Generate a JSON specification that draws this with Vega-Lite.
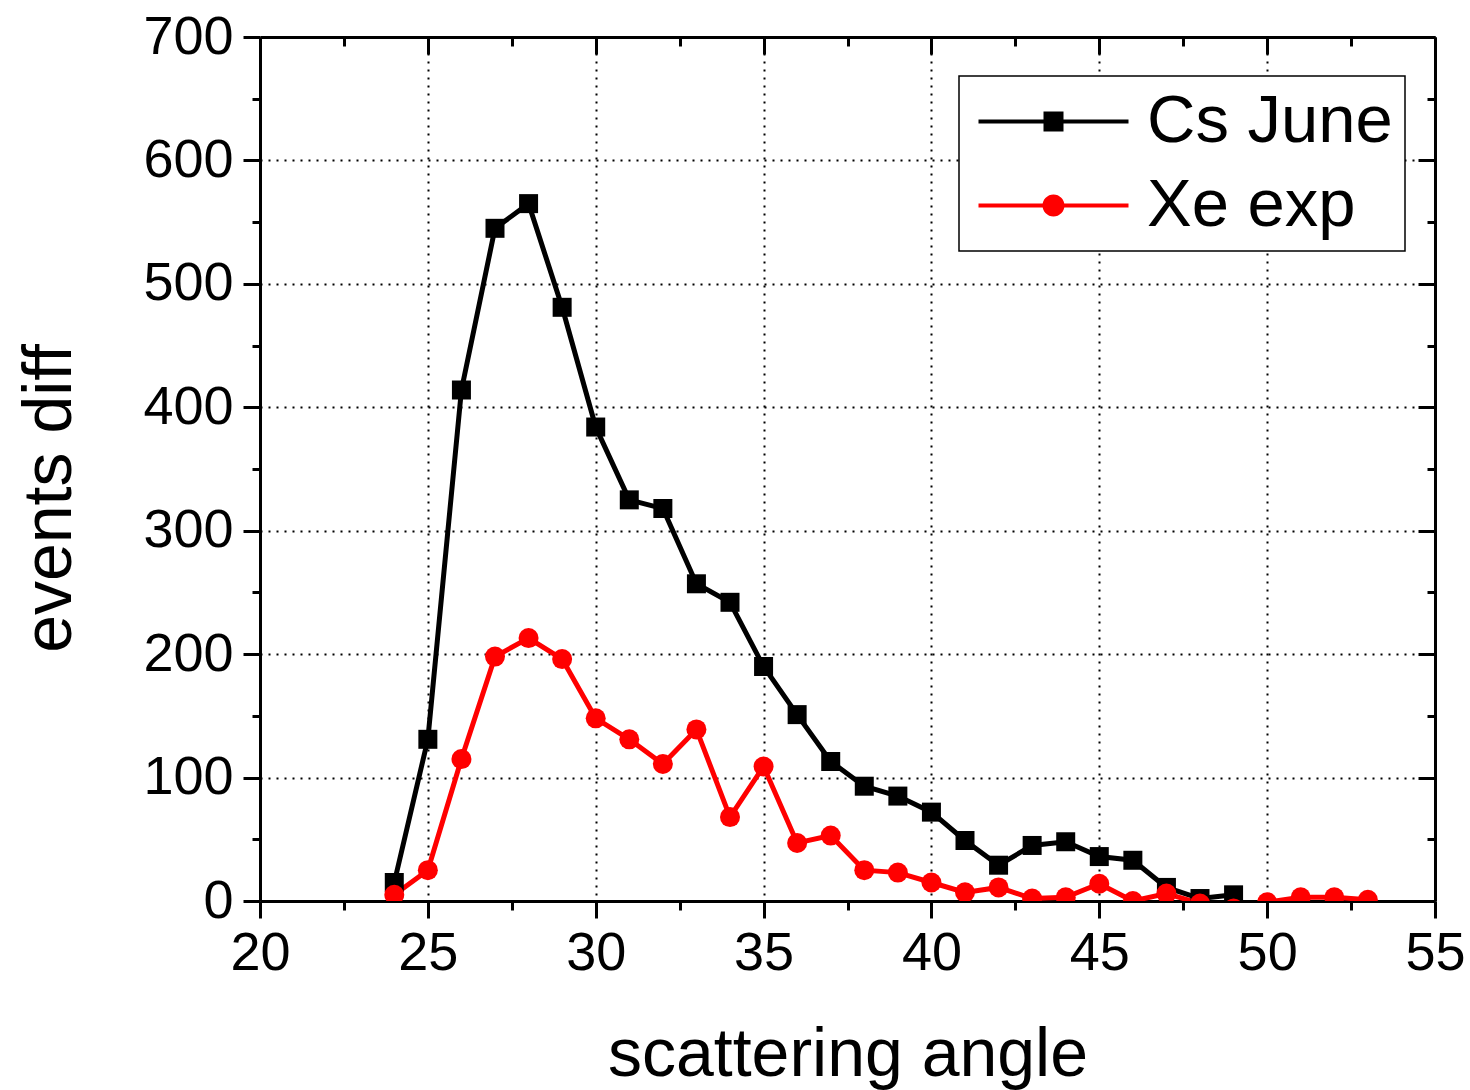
{
  "$schema": "https://vega.github.io/schema/vega-lite/v6.json",
  "width": 1175,
  "height": 864,
  "autosize": {"type": "none"},
  "padding": {"left": 260, "top": 37, "right": 35, "bottom": 189},
  "background": "white",
  "config": {
    "view": {"stroke": null},
    "font": "Liberation Sans",
    "legend": {
      "title": null,
      "orient": "none",
      "legendX": 699,
      "legendY": 39,
      "symbolSize": 1600,
      "symbolStrokeWidth": 0,
      "symbolOpacity": 1,
      "symbolOffset": 49,
      "labelFontSize": 67,
      "labelFont": "Liberation Sans",
      "labelColor": "black",
      "labelOffset": 60,
      "labelLimit": 500,
      "rowPadding": 16,
      "padding": 12,
      "strokeColor": "black",
      "strokeWidth": 1.5,
      "fillColor": "white"
    }
  },
  "data": {
    "values": [
      {"angle": 24, "events": 15, "series": "Cs June"},
      {"angle": 25, "events": 131, "series": "Cs June"},
      {"angle": 26, "events": 414, "series": "Cs June"},
      {"angle": 27, "events": 545, "series": "Cs June"},
      {"angle": 28, "events": 565, "series": "Cs June"},
      {"angle": 29, "events": 481, "series": "Cs June"},
      {"angle": 30, "events": 384, "series": "Cs June"},
      {"angle": 31, "events": 325, "series": "Cs June"},
      {"angle": 32, "events": 318, "series": "Cs June"},
      {"angle": 33, "events": 257, "series": "Cs June"},
      {"angle": 34, "events": 242, "series": "Cs June"},
      {"angle": 35, "events": 190, "series": "Cs June"},
      {"angle": 36, "events": 151, "series": "Cs June"},
      {"angle": 37, "events": 113, "series": "Cs June"},
      {"angle": 38, "events": 93, "series": "Cs June"},
      {"angle": 39, "events": 85, "series": "Cs June"},
      {"angle": 40, "events": 72, "series": "Cs June"},
      {"angle": 41, "events": 49, "series": "Cs June"},
      {"angle": 42, "events": 29, "series": "Cs June"},
      {"angle": 43, "events": 45, "series": "Cs June"},
      {"angle": 44, "events": 48, "series": "Cs June"},
      {"angle": 45, "events": 36, "series": "Cs June"},
      {"angle": 46, "events": 33, "series": "Cs June"},
      {"angle": 47, "events": 11, "series": "Cs June"},
      {"angle": 48, "events": 2, "series": "Cs June"},
      {"angle": 49, "events": 5, "series": "Cs June"},
      {"angle": 24, "events": 5, "series": "Xe exp"},
      {"angle": 25, "events": 25, "series": "Xe exp"},
      {"angle": 26, "events": 115, "series": "Xe exp"},
      {"angle": 27, "events": 198, "series": "Xe exp"},
      {"angle": 28, "events": 213, "series": "Xe exp"},
      {"angle": 29, "events": 196, "series": "Xe exp"},
      {"angle": 30, "events": 148, "series": "Xe exp"},
      {"angle": 31, "events": 131, "series": "Xe exp"},
      {"angle": 32, "events": 111, "series": "Xe exp"},
      {"angle": 33, "events": 139, "series": "Xe exp"},
      {"angle": 34, "events": 68, "series": "Xe exp"},
      {"angle": 35, "events": 109, "series": "Xe exp"},
      {"angle": 36, "events": 47, "series": "Xe exp"},
      {"angle": 37, "events": 53, "series": "Xe exp"},
      {"angle": 38, "events": 25, "series": "Xe exp"},
      {"angle": 39, "events": 23, "series": "Xe exp"},
      {"angle": 40, "events": 15, "series": "Xe exp"},
      {"angle": 41, "events": 7, "series": "Xe exp"},
      {"angle": 42, "events": 11, "series": "Xe exp"},
      {"angle": 43, "events": 2, "series": "Xe exp"},
      {"angle": 44, "events": 3, "series": "Xe exp"},
      {"angle": 45, "events": 14, "series": "Xe exp"},
      {"angle": 46, "events": 0, "series": "Xe exp"},
      {"angle": 47, "events": 6, "series": "Xe exp"},
      {"angle": 48, "events": -2, "series": "Xe exp"},
      {"angle": 49, "events": -6, "series": "Xe exp"},
      {"angle": 50, "events": -1, "series": "Xe exp"},
      {"angle": 51, "events": 3, "series": "Xe exp"},
      {"angle": 52, "events": 3, "series": "Xe exp"},
      {"angle": 53, "events": 1, "series": "Xe exp"}
    ]
  },
  "layer": [
    {
      "transform": [{"filter": "datum.series === 'Cs June'"}],
      "mark": {"type": "line", "strokeWidth": 5, "color": "black", "clip": true},
      "encoding": {
        "x": {
          "field": "angle", "type": "quantitative",
          "scale": {"domain": [20, 55], "nice": false, "zero": false},
          "axis": {
            "orient": "bottom",
            "values": [20, 22.5, 25, 27.5, 30, 32.5, 35, 37.5, 40, 42.5, 45, 47.5, 50, 52.5, 55],
            "labelExpr": "datum.value % 5 === 0 ? datum.label : ''",
            "tickSize": {"condition": {"test": "datum.value % 5 === 0", "value": 17}, "value": 9},
            "tickWidth": 3, "tickColor": "black",
            "domainColor": "black", "domainWidth": 3,
            "labelFontSize": 54, "labelColor": "black", "labelPadding": 8,
            "labelFlush": false, "labelOverlap": false,
            "grid": true, "gridColor": "black", "gridDash": [2, 6], "gridWidth": 2,
            "gridOpacity": {"condition": {"test": "datum.value % 5 === 0 && datum.value > 20 && datum.value < 55", "value": 1}, "value": 0},
            "title": "scattering angle", "titleFontSize": 68, "titleFontWeight": "normal", "titleColor": "black",
            "titleY": 174, "titleBaseline": "alphabetic"
          }
        },
        "y": {
          "field": "events", "type": "quantitative",
          "scale": {"domain": [0, 700], "nice": false},
          "axis": {
            "orient": "left",
            "values": [0, 50, 100, 150, 200, 250, 300, 350, 400, 450, 500, 550, 600, 650, 700],
            "labelExpr": "datum.value % 100 === 0 ? datum.label : ''",
            "tickSize": {"condition": {"test": "datum.value % 100 === 0", "value": 17}, "value": 8},
            "tickWidth": 3, "tickColor": "black",
            "domainColor": "black", "domainWidth": 3,
            "labelFontSize": 54, "labelColor": "black", "labelPadding": 10,
            "labelFlush": false, "labelOverlap": false,
            "grid": true, "gridColor": "black", "gridDash": [2, 6], "gridWidth": 2,
            "gridOpacity": {"condition": {"test": "datum.value % 100 === 0 && datum.value > 0 && datum.value < 700", "value": 1}, "value": 0},
            "title": "events diff", "titleFontSize": 68, "titleFontWeight": "normal", "titleColor": "black",
            "titleX": -190, "titleY": 461, "titleAlign": "center", "titleBaseline": "alphabetic", "titleAngle": -90
          }
        }
      }
    },
    {
      "transform": [{"filter": "datum.series === 'Xe exp'"}],
      "mark": {"type": "line", "strokeWidth": 5, "color": "#ff0000", "clip": true},
      "encoding": {
        "x": {"field": "angle", "type": "quantitative", "scale": {"domain": [20, 55], "nice": false, "zero": false}, "axis": null},
        "y": {"field": "events", "type": "quantitative", "scale": {"domain": [0, 700], "nice": false}, "axis": null}
      }
    },
    {
      "transform": [{"filter": "datum.series === 'Cs June'"}],
      "mark": {"type": "point", "shape": "square", "filled": true, "size": 361, "color": "black", "opacity": 1, "clip": true},
      "encoding": {
        "x": {
          "field": "angle", "type": "quantitative",
          "scale": {"domain": [20, 55], "nice": false, "zero": false},
          "axis": {
            "orient": "top",
            "values": [20, 22.5, 25, 27.5, 30, 32.5, 35, 37.5, 40, 42.5, 45, 47.5, 50, 52.5, 55],
            "labels": false,
            "tickSize": {"condition": {"test": "datum.value % 5 === 0", "value": -17}, "value": -9},
            "tickWidth": 3, "tickColor": "black",
            "domainColor": "black", "domainWidth": 3,
            "grid": false, "title": null
          }
        },
        "y": {
          "field": "events", "type": "quantitative",
          "scale": {"domain": [0, 700], "nice": false},
          "axis": {
            "orient": "right",
            "values": [0, 50, 100, 150, 200, 250, 300, 350, 400, 450, 500, 550, 600, 650, 700],
            "labels": false,
            "tickSize": {"condition": {"test": "datum.value % 100 === 0", "value": -17}, "value": -8},
            "tickWidth": 3, "tickColor": "black",
            "domainColor": "black", "domainWidth": 3,
            "grid": false, "title": null
          }
        }
      }
    },
    {
      "transform": [{"filter": "datum.series === 'Xe exp'"}],
      "mark": {"type": "point", "shape": "circle", "filled": true, "size": 400, "color": "#ff0000", "opacity": 1, "clip": true},
      "encoding": {
        "x": {"field": "angle", "type": "quantitative", "scale": {"domain": [20, 55], "nice": false, "zero": false}, "axis": null},
        "y": {"field": "events", "type": "quantitative", "scale": {"domain": [0, 700], "nice": false}, "axis": null}
      }
    },
    {
      "mark": {"type": "point", "filled": true, "size": 0, "strokeWidth": 0, "opacity": 1},
      "encoding": {
        "x": {"field": "angle", "type": "quantitative", "scale": {"domain": [20, 55], "nice": false, "zero": false}, "axis": null},
        "y": {"field": "events", "type": "quantitative", "scale": {"domain": [0, 700], "nice": false}, "axis": null},
        "color": {
          "field": "series", "type": "nominal",
          "scale": {"domain": ["Cs June", "Xe exp"], "range": ["black", "#ff0000"]}
        },
        "shape": {
          "field": "series", "type": "nominal",
          "scale": {
            "domain": ["Cs June", "Xe exp"],
            "range": [
              "M-3.75,-0.1H3.75V0.1H-3.75Z M-0.5,-0.5H0.5V0.5H-0.5Z",
              "M-3.75,-0.1H3.75V0.1H-3.75Z M-0.55,0A0.55,0.55 0 1,1 0.55,0A0.55,0.55 0 1,1 -0.55,0Z"
            ]
          }
        }
      }
    }
  ],
  "resolve": {"axis": {"x": "independent", "y": "independent"}}
}
